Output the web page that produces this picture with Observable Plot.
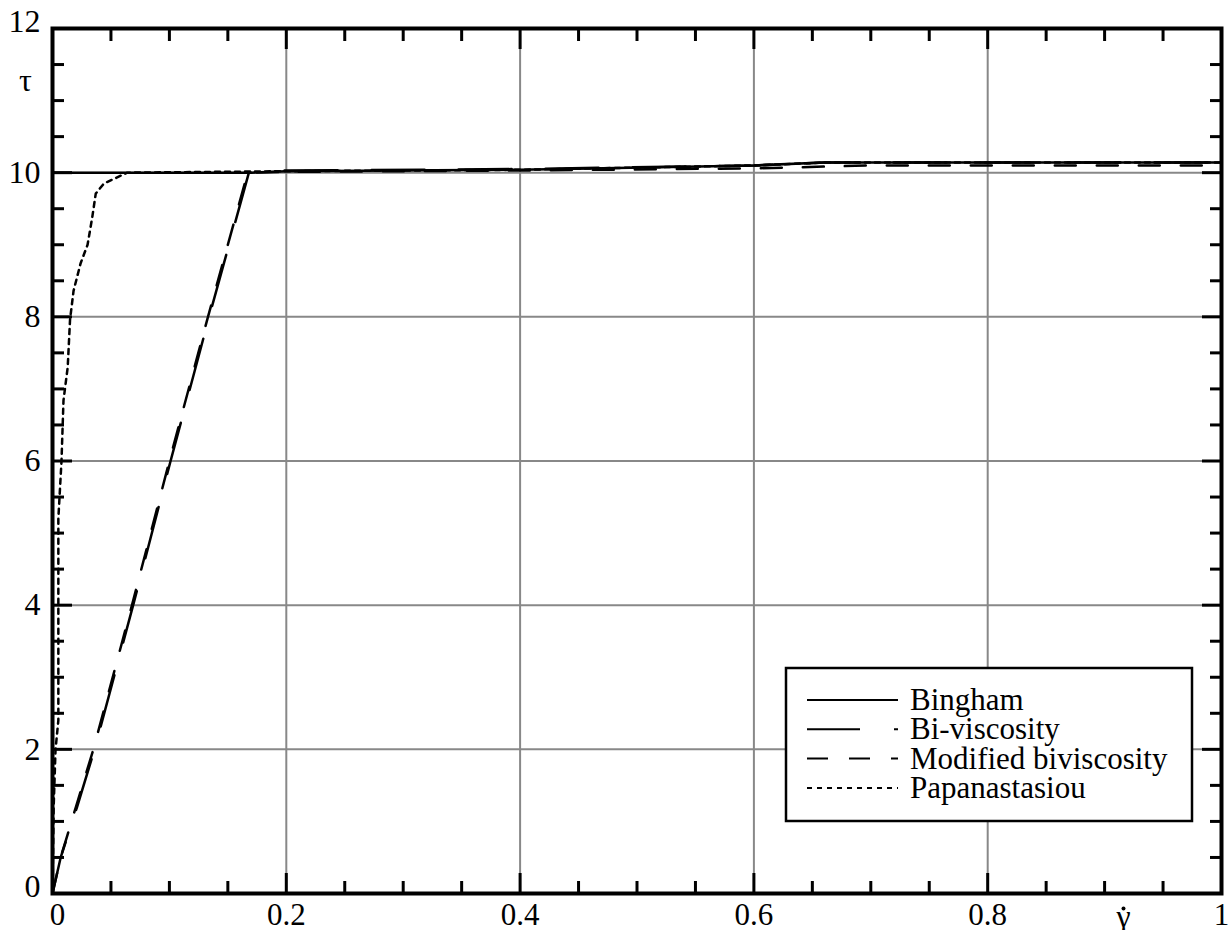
<!DOCTYPE html>
<html><head><meta charset="utf-8">
<script src="https://cdn.jsdelivr.net/npm/d3@7"></script>
<script src="https://cdn.jsdelivr.net/npm/@observablehq/plot@0.6"></script>
<style>body{margin:0;background:#fff}</style>
</head><body><div id="chart"></div>
<script>
const binghamX = [0, 0, 0.17, 0.2, 0.4, 0.6, 0.66, 1];
const binghamY = [0, 10, 10, 10.02, 10.04, 10.1, 10.14, 10.14];
const biviscX = [0, 0.007, 0.021, 0.036, 0.069, 0.101, 0.134, 0.168, 0.2, 0.4, 0.6, 0.66, 1];
const biviscY = [0, 0.5, 1.2, 2, 4, 6, 8, 10, 10.03, 10.05, 10.1, 10.14, 10.14];
const modX = [0, 0.007, 0.02, 0.035, 0.068, 0.1, 0.133, 0.167, 0.2, 0.4, 0.6, 0.7, 1];
const modY = [0, 0.5, 1.2, 2, 4, 6, 8, 10, 10.01, 10.03, 10.06, 10.1, 10.1];
const papaX = [0, 0.001, 0.0026, 0.005, 0.005, 0.0077, 0.0094, 0.013, 0.015, 0.018, 0.024, 0.030, 0.034, 0.037, 0.044, 0.064, 0.2, 0.4, 0.6, 0.66, 1];
const papaY = [0, 1.2, 2, 2.4, 5.2, 6, 6.84, 7.3, 7.96, 8.36, 8.74, 9.0, 9.38, 9.71, 9.85, 10, 10.02, 10.04, 10.1, 10.14, 10.14];

const xMajor = [0, 0.2, 0.4, 0.6, 0.8, 1];
const xMinor = [0.05, 0.1, 0.15, 0.25, 0.3, 0.35, 0.45, 0.5, 0.55, 0.65, 0.7, 0.75, 0.85, 0.9, 0.95];
const yMajor = [0, 2, 4, 6, 8, 10, 12];
const yMinor = [0.5, 1, 1.5, 2.5, 3, 3.5, 4.5, 5, 5.5, 6.5, 7, 7.5, 8.5, 9, 9.5, 10.5, 11, 11.5];
const seriesNames = ["Bingham", "Bi-viscosity", "Modified biviscosity", "Papanastasiou"];
const dashes = [null, "53,34", "21,21", "5,5"];

const toRows = (xs, ys) => xs.map((x, i) => ({x, y: ys[i]}));
const series = [toRows(binghamX, binghamY), toRows(biviscX, biviscY), toRows(modX, modY), toRows(papaX, papaY)];

const font = "'Liberation Serif', 'Times New Roman', serif";
const blank = () => "";
const fmt = d => String(d);
const majLen = 20, minLen = 12, tw = 3;
const lab = {tickSize: 0, label: null, fontFamily: font, tickFormat: fmt};

const marks = [
  Plot.ruleX(xMajor.slice(1, -1), {stroke: "#888", strokeWidth: 2}),
  Plot.ruleY(yMajor.slice(1, -1), {stroke: "#888", strokeWidth: 2}),
  // inward ticks
  Plot.axisX(xMajor, {anchor: "bottom", tickSize: majLen, dy: -majLen, tickFormat: blank, strokeWidth: tw, label: null}),
  Plot.axisX(xMinor, {anchor: "bottom", tickSize: minLen, dy: -minLen, tickFormat: blank, strokeWidth: tw, label: null}),
  Plot.axisX(xMajor, {anchor: "top", tickSize: majLen, dy: majLen, tickFormat: blank, strokeWidth: tw, label: null}),
  Plot.axisX(xMinor, {anchor: "top", tickSize: minLen, dy: minLen, tickFormat: blank, strokeWidth: tw, label: null}),
  Plot.axisY(yMajor, {anchor: "left", tickSize: majLen, dx: majLen, tickFormat: blank, strokeWidth: tw, label: null}),
  Plot.axisY(yMinor, {anchor: "left", tickSize: minLen, dx: minLen, tickFormat: blank, strokeWidth: tw, label: null}),
  Plot.axisY(yMajor, {anchor: "right", tickSize: majLen, dx: -majLen, tickFormat: blank, strokeWidth: tw, label: null}),
  Plot.axisY(yMinor, {anchor: "right", tickSize: minLen, dx: -minLen, tickFormat: blank, strokeWidth: tw, label: null}),
  // tick labels
  Plot.axisX(xMajor.slice(1), {anchor: "bottom", tickPadding: 9, fontSize: 31, ...lab}),
  Plot.axisX([0], {anchor: "bottom", tickPadding: 9, dx: 5, fontSize: 31, ...lab}),
  Plot.axisY(yMajor.slice(1, -1), {anchor: "left", tickPadding: 12, fontSize: 32, ...lab}),
  Plot.axisY([0, 12], {anchor: "left", tickPadding: 12, dy: -7, fontSize: 32, ...lab}),
  // curves
  ...series.map((rows, i) => Plot.line(rows, {x: "x", y: "y", stroke: "black", strokeWidth: 2.5, strokeDasharray: dashes[i], curve: "linear"})),
  Plot.text(["τ"], {frameAnchor: "top-left", dx: -27, dy: 40, fontSize: 32, fontFamily: font, textAnchor: "middle"}),
  Plot.text(["γ"], {frameAnchor: "bottom-right", dx: -98, dy: 23, fontSize: 32, fontFamily: font, textAnchor: "middle", lineAnchor: "middle"}),
  Plot.dot([0], {frameAnchor: "bottom-right", dx: -98, dy: 15, r: 2, fill: "black", stroke: null}),
  Plot.frame({stroke: "black", strokeWidth: 4})
];

const chart = Plot.plot({
  width: 1228, height: 930,
  marginLeft: 52, marginRight: 7, marginTop: 28, marginBottom: 37,
  style: {fontFamily: font, fontSize: "32px", color: "black", background: "white"},
  x: {domain: [0, 1], label: null},
  y: {domain: [0, 12], label: null},
  marks
});
document.getElementById("chart").appendChild(chart);

// legend inside the plot
const svg = d3.select(chart.tagName === "svg" ? chart : chart.querySelector("svg"));
const lg = svg.append("g").attr("text-anchor", "start");
lg.append("rect").attr("x", 786).attr("y", 668).attr("width", 406).attr("height", 153)
  .attr("fill", "white").attr("stroke", "black").attr("stroke-width", 2.5);
seriesNames.forEach((name, i) => {
  const y = 700 + i * 29.3;
  lg.append("line").attr("x1", 807).attr("x2", 898).attr("y1", y).attr("y2", y)
    .attr("stroke", "black").attr("stroke-width", 2).attr("stroke-dasharray", dashes[i]);
  lg.append("text").attr("x", 910).attr("y", y).attr("dy", "0.32em").attr("text-anchor", "start")
    .attr("font-family", font).attr("font-size", 31).attr("fill", "black").text(name);
});
</script></body></html>
